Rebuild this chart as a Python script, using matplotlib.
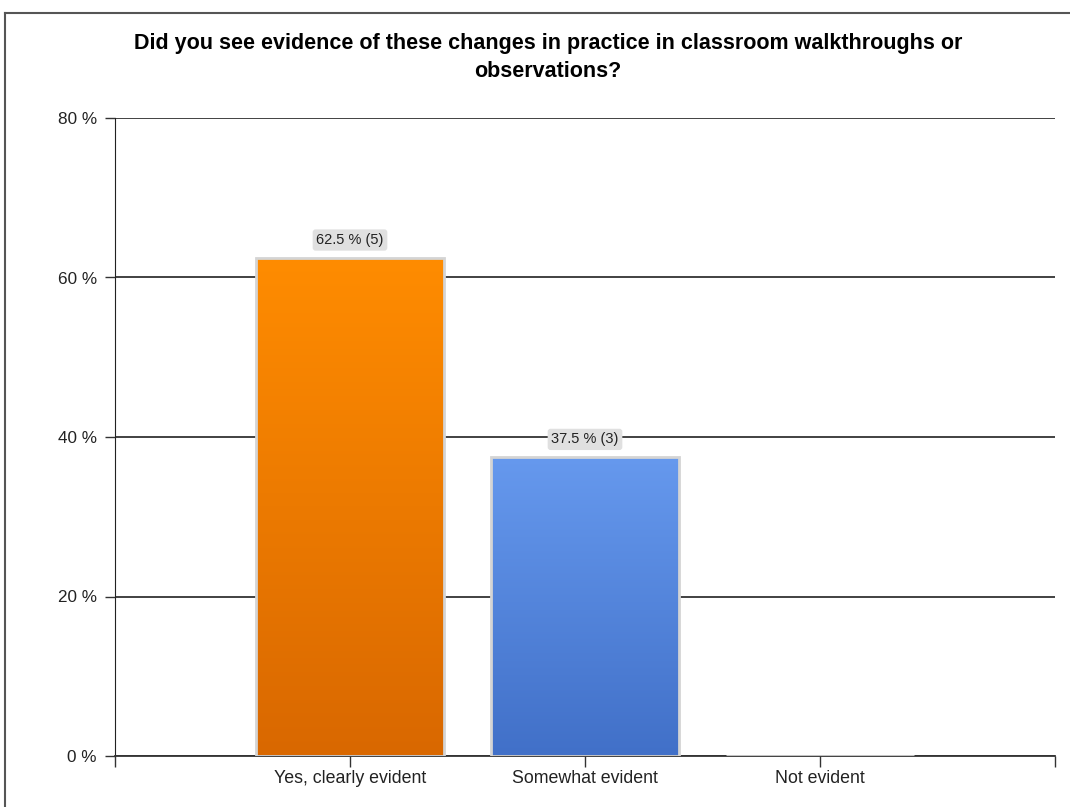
import numpy as np
import matplotlib
matplotlib.use('Agg')
import matplotlib.pyplot as plt
from matplotlib.lines import Line2D
from matplotlib.colors import LinearSegmentedColormap

plt.rcParams['font.family'] = ['Liberation Sans', 'DejaVu Sans']

title = 'Did you see evidence of these changes in practice in classroom walkthroughs or\nobservations?'
categories = ['Yes, clearly evident', 'Somewhat evident', 'Not evident']
percents = [62.5, 37.5, 0.0]
counts = [5, 3, 0]
yticks = [0, 20, 40, 60, 80]
# gradient colours (top, bottom) per bar
grad_top = ['#FF8C00', '#6699EE', '#DDDDDD']
grad_bot = ['#D96800', '#4170C8', '#DDDDDD']

fig = plt.figure(figsize=(10.7, 8.07), dpi=100)
ax = fig.add_axes([115/1070, 1-756/807, 940/1070, 638/807])

x = np.arange(len(categories))
width = 0.8
bars = ax.bar(x, percents, width=width, color='none', edgecolor='#d4d4d4', linewidth=2, zorder=3)

grad = np.linspace(1, 0, 256).reshape(-1, 1)
for i, b in enumerate(bars):
    if percents[i] <= 0:
        continue
    cmap = LinearSegmentedColormap.from_list('g%d' % i, [grad_bot[i], grad_top[i]])
    im = ax.imshow(grad, cmap=cmap, aspect='auto', zorder=2,
                   extent=[b.get_x(), b.get_x() + b.get_width(), 0, b.get_height()])
    im.set_clip_path(b)
    ax.text(x[i], percents[i] + 2.2, '%.1f %% (%d)' % (percents[i], counts[i]),
            ha='center', va='center', fontsize=10.5, color='#222222', zorder=5,
            bbox=dict(boxstyle='round,pad=0.25,rounding_size=0.2', fc='#e0e0e0', ec='none'))

ax.set_xlim(-1, 3)
ax.set_ylim(0, 80)
ax.set_yticks(yticks)
ax.set_yticklabels(['%d %%' % v for v in yticks], fontsize=12.3, color='#222222')
ax.set_xticks([-1, 0, 1, 2, 3])
ax.set_xticklabels([''] + categories + [''], fontsize=12.8, color='#222222')
ax.tick_params(axis='y', length=7, width=1, color='#333333', pad=6)
ax.tick_params(axis='x', length=8, width=1, color='#333333', pad=2)
ax.grid(axis='y', color='#333333', linewidth=1.3, zorder=1)
ax.set_axisbelow(True)
for s in ['top', 'right']:
    ax.spines[s].set_visible(False)
ax.spines['left'].set_color('#222222')
ax.spines['bottom'].set_color('#333333')
ax.spines['bottom'].set_linewidth(1.3)

fig.text(548/1070, 1-57.5/807, title, ha='center', va='center', fontsize=15.5,
         fontweight='bold', linespacing=1.38)

# outer frame
fig.add_artist(Line2D([5/1070, 1], [1-13/807, 1-13/807], color='#555555', linewidth=1.5))
fig.add_artist(Line2D([5/1070, 5/1070], [0, 1-13/807], color='#555555', linewidth=1.5))

fig.savefig('out.png', dpi=100)
